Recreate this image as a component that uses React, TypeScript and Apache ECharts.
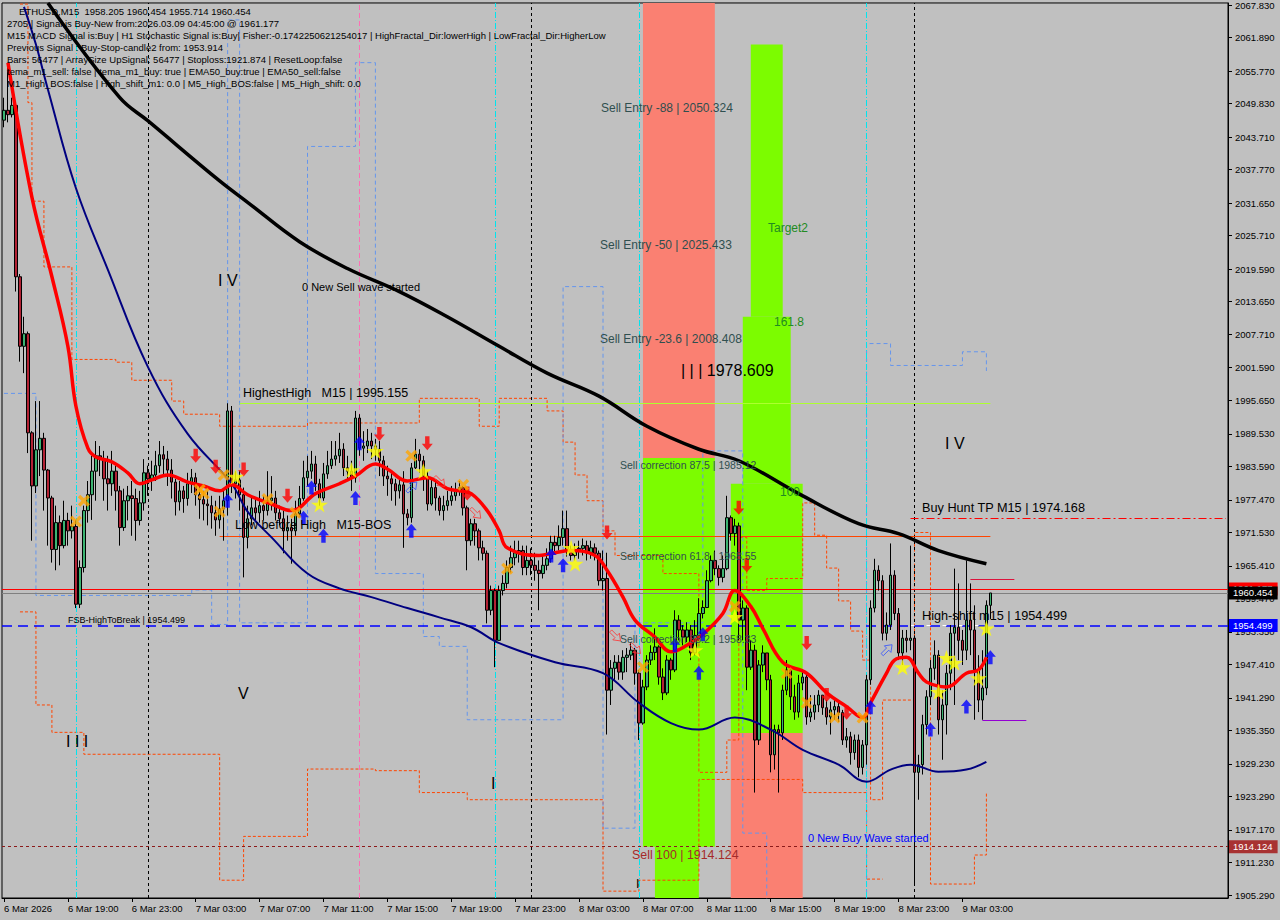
import React, { useEffect, useRef } from "react";
import * as echarts from "echarts";

const FONT = "'Liberation Sans', Arial, sans-serif";
const Y_MIN = 1904.75;
const Y_MAX = 2068.2;
const N_SLOTS = 307;

const xTickIdx = [0, 16, 32, 48, 64, 80, 96, 112, 128, 144, 160, 176, 192, 208, 224, 240];
const xTickLabels = ["6 Mar 2026", "6 Mar 19:00", "6 Mar 23:00", "7 Mar 03:00", "7 Mar 07:00", "7 Mar 11:00", "7 Mar 15:00", "7 Mar 19:00", "7 Mar 23:00", "8 Mar 03:00", "8 Mar 07:00", "8 Mar 11:00", "8 Mar 15:00", "8 Mar 19:00", "8 Mar 23:00", "9 Mar 03:00"];
const yTickValues = [2067.83, 2061.89, 2055.77, 2049.83, 2043.71, 2037.77, 2031.65, 2025.71, 2019.59, 2013.65, 2007.71, 2001.59, 1995.65, 1989.53, 1983.59, 1977.47, 1971.53, 1965.41, 1959.47, 1953.35, 1947.41, 1941.29, 1935.35, 1929.23, 1923.29, 1917.17, 1911.23, 1905.29];

const firstOpen = 2046.8;
const closes = [
  2048.6, 2047.8, 2049.5, 2018.2, 2005.5, 2007.8, 1989.7, 1980.0, 1986.6, 1988.7,
  1982.9, 1977.8, 1968.4, 1973.3, 1969.1, 1973.7, 1971.8, 1972.6, 1958.4, 1965.1,
  1975.5, 1978.4, 1982.7, 1985.5, 1984.9, 1981.3, 1980.4, 1982.7, 1979.1, 1972.4,
  1977.3, 1978.2, 1977.7, 1973.7, 1976.9, 1982.4, 1981.3, 1982.0, 1983.7, 1985.7,
  1984.9, 1982.9, 1980.7, 1977.1, 1979.1, 1977.7, 1980.4, 1981.5, 1978.4, 1977.5,
  1976.7, 1976.4, 1975.1, 1973.8, 1975.8, 1977.3, 1993.7, 1980.4, 1981.1, 1978.4,
  1970.6, 1974.0, 1976.0, 1975.1, 1976.4, 1975.5, 1977.3, 1977.8, 1975.1, 1974.0,
  1971.8, 1972.4, 1971.8, 1974.9, 1977.7, 1981.5, 1982.7, 1984.0, 1980.4, 1977.8,
  1982.2, 1983.7, 1984.9, 1985.5, 1986.7, 1983.3, 1982.7, 1981.5, 1992.4, 1986.9,
  1987.3, 1988.2, 1987.3, 1986.7, 1984.6, 1981.8, 1981.3, 1980.4, 1979.1, 1980.2,
  1974.9, 1974.2, 1983.3, 1985.8, 1984.6, 1981.8, 1976.7, 1979.7, 1977.8, 1975.5,
  1976.4, 1977.3, 1978.2, 1979.1, 1979.7, 1976.0, 1970.0, 1973.1, 1971.8, 1968.7,
  1967.7, 1957.3, 1960.9, 1951.8, 1960.9, 1962.2, 1965.1, 1966.9, 1967.8, 1968.2,
  1965.1, 1966.4, 1965.5, 1964.6, 1964.0, 1965.5, 1966.7, 1969.7, 1969.1, 1970.6,
  1972.2, 1968.2, 1967.3, 1968.2, 1968.6, 1969.1, 1967.8, 1968.7, 1967.7, 1962.7,
  1963.1, 1942.7, 1946.7, 1947.8, 1946.0, 1948.7, 1949.1, 1950.0, 1945.8, 1936.7,
  1943.3, 1948.2, 1949.6, 1950.6, 1945.1, 1942.2, 1948.2, 1946.4, 1955.5, 1953.7,
  1952.4, 1953.7, 1949.5, 1952.7, 1956.7, 1957.8, 1962.7, 1966.4, 1964.9, 1963.3,
  1964.9, 1974.2, 1971.3, 1972.7, 1955.5, 1957.7, 1946.9, 1950.0, 1933.6, 1947.3,
  1949.5, 1944.6, 1930.9, 1935.5, 1934.9, 1942.7, 1946.4, 1941.5, 1938.7, 1944.0,
  1945.1, 1937.8, 1938.7, 1940.0, 1941.8, 1939.5, 1937.8, 1939.1, 1939.7, 1938.6,
  1933.6, 1934.2, 1931.3, 1933.6, 1928.6, 1932.7, 1944.6, 1957.7, 1964.6, 1962.7,
  1953.1, 1954.6, 1963.7, 1956.7, 1949.5, 1952.2, 1951.8, 1952.2, 1927.7, 1929.1,
  1936.4, 1941.5, 1946.7, 1949.1, 1937.3, 1940.0, 1945.8, 1953.1, 1954.2, 1951.8,
  1950.0, 1955.5, 1953.7, 1946.4, 1940.9, 1943.1, 1958.2, 1960.454
];
const highs = [
  2050.9, 2057.3, 2050.9, 2050.0, 2018.7, 2010.9, 2008.2, 1990.0, 1995.5, 1995.5,
  1989.7, 1983.1, 1978.2, 1976.4, 1974.6, 1977.3, 1975.1, 1976.4, 1973.7, 1966.4,
  1976.4, 1980.9, 1985.5, 1988.2, 1987.3, 1986.4, 1985.5, 1986.4, 1983.7, 1980.0,
  1979.5, 1980.0, 1980.9, 1979.5, 1979.1, 1984.9, 1983.7, 1984.6, 1986.4, 1988.2,
  1987.3, 1986.4, 1984.9, 1981.3, 1980.9, 1980.0, 1982.4, 1983.1, 1982.4, 1980.0,
  1979.1, 1979.1, 1978.2, 1977.3, 1978.2, 1979.1, 1995.1, 1994.6, 1982.7, 1982.7,
  1979.7, 1976.4, 1978.2, 1977.7, 1979.1, 1978.2, 1982.7, 1981.8, 1979.1, 1976.4,
  1975.5, 1974.6, 1974.0, 1977.3, 1980.0, 1984.6, 1985.5, 1986.4, 1985.5, 1981.3,
  1984.2, 1986.4, 1988.2, 1988.2, 1989.7, 1987.8, 1985.5, 1984.6, 1993.7, 1993.1,
  1990.0, 1990.4, 1989.7, 1988.6, 1988.2, 1985.5, 1983.7, 1982.7, 1981.3, 1981.3,
  1982.7, 1975.8, 1984.2, 1988.6, 1986.7, 1985.5, 1982.7, 1981.3, 1980.9, 1978.2,
  1978.2, 1979.1, 1980.0, 1980.6, 1980.9, 1980.0, 1976.4, 1974.0, 1974.0, 1972.2,
  1970.0, 1968.2, 1961.8, 1961.3, 1961.8, 1963.7, 1966.4, 1969.1, 1970.0, 1970.0,
  1969.1, 1969.1, 1968.6, 1967.8, 1966.4, 1967.3, 1968.6, 1970.9, 1970.9, 1972.8,
  1975.5, 1975.5, 1969.1, 1969.5, 1970.0, 1970.4, 1970.0, 1970.0, 1969.5, 1968.2,
  1968.2, 1967.8, 1948.2, 1949.1, 1949.1, 1950.0, 1950.4, 1951.5, 1950.4, 1946.4,
  1944.6, 1949.1, 1950.9, 1954.0, 1950.9, 1946.7, 1949.1, 1948.6, 1957.3, 1956.4,
  1954.6, 1955.1, 1954.6, 1955.5, 1959.5, 1959.1, 1964.6, 1967.3, 1968.2, 1965.5,
  1967.3, 1978.2, 1974.6, 1974.0, 1973.3, 1959.1, 1958.2, 1951.8, 1951.0, 1948.2,
  1950.9, 1949.1, 1945.5, 1936.4, 1936.4, 1943.7, 1948.2, 1947.3, 1943.7, 1945.5,
  1946.4, 1946.0, 1941.8, 1941.8, 1942.7, 1941.8, 1940.9, 1940.6, 1940.9, 1940.9,
  1939.1, 1935.8, 1935.1, 1934.6, 1934.6, 1933.6, 1945.5, 1959.1, 1966.7, 1965.5,
  1963.7, 1956.9, 1969.5, 1964.6, 1957.7, 1953.7, 1953.7, 1969.1, 1952.7, 1930.9,
  1938.2, 1942.7, 1948.2, 1951.8, 1950.0, 1942.7, 1947.3, 1954.6, 1964.9, 1962.2,
  1953.7, 1966.4, 1962.2, 1958.2, 1949.1, 1950.0, 1959.1, 1960.454
];
const lows = [
  2045.5, 2046.4, 2047.3, 2015.5, 2002.7, 2000.6, 1986.0, 1970.0, 1978.7, 1981.8,
  1975.5, 1969.1, 1966.0, 1964.6, 1965.5, 1968.6, 1969.1, 1970.4, 1957.7, 1957.7,
  1964.2, 1973.3, 1973.8, 1977.3, 1981.8, 1977.3, 1975.5, 1978.2, 1975.5, 1969.1,
  1971.8, 1973.7, 1970.9, 1970.0, 1972.8, 1975.5, 1978.2, 1979.1, 1980.9, 1982.4,
  1981.8, 1980.0, 1977.7, 1974.6, 1975.5, 1975.1, 1976.4, 1978.7, 1976.4, 1974.0,
  1973.7, 1972.8, 1972.2, 1970.9, 1972.2, 1970.0, 1974.6, 1978.7, 1977.7, 1975.5,
  1963.3, 1968.6, 1972.8, 1973.7, 1973.3, 1973.7, 1974.6, 1975.5, 1973.7, 1972.8,
  1967.7, 1970.0, 1965.8, 1970.9, 1974.6, 1977.3, 1980.0, 1981.3, 1979.1, 1976.4,
  1977.3, 1981.3, 1983.1, 1983.7, 1984.2, 1981.8, 1980.9, 1979.1, 1980.6, 1985.5,
  1984.6, 1986.0, 1984.9, 1984.6, 1981.8, 1980.0, 1978.2, 1977.3, 1976.4, 1977.7,
  1968.7, 1972.8, 1973.3, 1983.1, 1982.4, 1979.1, 1975.5, 1976.4, 1975.5, 1974.6,
  1973.7, 1975.5, 1976.4, 1977.3, 1978.2, 1974.6, 1964.6, 1969.1, 1969.1, 1966.4,
  1966.4, 1954.9, 1956.4, 1946.9, 1951.8, 1960.0, 1961.3, 1964.2, 1965.5, 1966.0,
  1963.7, 1963.7, 1963.7, 1962.7, 1957.3, 1963.1, 1964.6, 1966.0, 1967.8, 1968.2,
  1969.1, 1967.1, 1966.4, 1966.4, 1966.7, 1967.3, 1966.4, 1966.7, 1966.4, 1961.8,
  1960.9, 1934.6, 1940.0, 1944.6, 1944.6, 1944.6, 1946.0, 1948.2, 1943.7, 1933.6,
  1936.4, 1942.7, 1947.3, 1948.2, 1943.7, 1940.9, 1941.8, 1944.6, 1946.0, 1951.8,
  1950.9, 1951.5, 1948.2, 1949.1, 1951.8, 1955.8, 1957.7, 1962.4, 1963.7, 1961.8,
  1962.4, 1964.6, 1970.0, 1969.1, 1951.8, 1951.8, 1942.7, 1946.4, 1924.0, 1932.7,
  1946.0, 1942.7, 1927.7, 1928.2, 1924.0, 1933.6, 1941.8, 1939.1, 1937.3, 1937.7,
  1942.7, 1936.4, 1936.9, 1937.3, 1938.7, 1938.2, 1936.4, 1934.6, 1937.3, 1936.9,
  1932.7, 1932.2, 1929.1, 1930.0, 1926.8, 1927.3, 1929.1, 1943.7, 1956.9, 1960.9,
  1951.8, 1951.8, 1953.7, 1955.5, 1948.2, 1947.3, 1949.6, 1950.0, 1907.3, 1922.7,
  1927.3, 1934.6, 1940.0, 1944.6, 1934.6, 1930.0, 1934.6, 1942.7, 1940.0, 1948.2,
  1947.3, 1948.2, 1949.1, 1937.3, 1938.7, 1937.3, 1941.8, 1955.714
];

// moving averages (knots: [bar index, price])
const blackMA = [[11, 2068.2], [29, 2050.9], [36, 2046.7], [54, 2035.7], [61, 2031.8], [74, 2024.6], [86, 2019.7], [99, 2015.5], [111, 2010.9], [124, 2005.5], [136, 2000.6], [149, 1996.4], [161, 1990.9], [174, 1986.7], [184, 1984.6], [199, 1978.6], [214, 1973.1], [224, 1971.3], [234, 1968.2], [246, 1965.8]];
const navyMA = [[5, 2067.5], [8, 2060.6], [11, 2052.4], [18, 2034.4], [26, 2019.5], [36, 2001.8], [46, 1989.5], [57, 1980.4], [61, 1975.3], [67, 1970.6], [76, 1964.0], [84, 1961.3], [92, 1959.7], [101, 1957.7], [109, 1956.0], [117, 1954.2], [124, 1951.3], [138, 1947.8], [150, 1945.8], [159, 1940.4], [167, 1936.7], [174, 1935.5], [183, 1937.7], [192, 1935.5], [200, 1931.8], [209, 1929.1], [216, 1926.0], [222, 1928.2], [227, 1929.1], [234, 1927.8], [241, 1928.2], [246, 1929.6]];
const redMA = [[1, 2057.3], [7, 2032.7], [12, 2018.2], [16, 2005.5], [18, 1994.6], [21, 1986.9], [23, 1985.3], [27, 1984.4], [31, 1982.4], [34, 1980.4], [37, 1981.1], [41, 1982.0], [46, 1980.7], [50, 1980.0], [54, 1979.1], [57, 1980.2], [61, 1978.4], [67, 1976.7], [72, 1975.5], [78, 1978.6], [84, 1980.4], [88, 1981.8], [93, 1984.0], [96, 1983.1], [101, 1980.9], [106, 1981.5], [111, 1979.5], [114, 1979.1], [117, 1978.6], [121, 1975.5], [124, 1971.8], [126, 1968.7], [134, 1967.3], [138, 1967.8], [142, 1968.2], [148, 1967.3], [151, 1964.6], [155, 1959.7], [158, 1955.5], [163, 1952.4], [167, 1949.7], [171, 1950.9], [175, 1952.9], [180, 1956.7], [183, 1960.9], [187, 1958.0], [190, 1954.0], [195, 1947.8], [201, 1945.8], [206, 1942.2], [211, 1939.7], [215, 1937.7], [217, 1940.4], [221, 1945.8], [223, 1948.2], [226, 1948.7], [229, 1945.8], [231, 1944.2], [236, 1943.3], [241, 1945.8], [244, 1946.4], [246, 1948.7]];

// stepped channel lines
const orangeUpper = [[4, 2068.0], [6, 2050.0], [7, 2032.0], [10, 2020.0], [17, 2003.1], [28, 2002.6], [32, 1999.3], [42, 1995.5], [45, 1993.1], [54, 1990.9], [76, 1991.5], [104, 1996.0], [119, 1990.9], [124, 1996.0], [136, 1993.7], [140, 1988.0], [143, 1982.0], [146, 1977.3], [150, 1971.8], [153, 1967.3], [165, 1964.0], [174, 1927.7], [181, 1933.6], [184, 1970.6], [186, 1960.9], [191, 1963.1], [200, 1976.9], [203, 1971.0], [206, 1965.0], [209, 1959.0], [212, 1953.5], [215, 1948.2], [217, 1922.7], [220, 1940.9], [228, 1971.5], [232, 1907.3], [243, 1912.6], [246, 1924.0]];
const orangeLower = [[4, 1957.0], [8, 1940.0], [12, 1935.0], [20, 1931.0], [54, 1908.0], [60, 1916.0], [76, 1928.3], [93, 1928.0], [104, 1924.0], [116, 1922.7], [135, 1922.7], [150, 1906.0], [159, 1908.0], [174, 1926.4], [200, 1924.0], [216, 1908.2], [220, 1908.2]];
const blueUpper = [[0, 1996.9], [8, 1960.0], [47, 1961.0], [52, 1954.7], [56, 2065.1], [59, 1955.0], [76, 2042.0], [88, 2057.3], [93, 1964.0], [105, 1952.5], [109, 1950.7], [116, 1937.3], [140, 2016.4], [150, 1917.5], [158, 1955.0], [175, 1986.4], [185, 1916.6], [191, 1904.0], [216, 2006.0], [222, 2002.0], [240, 2004.5], [246, 2001.0]];

// signal markers [bar index, price]
const redArrows = [[48, 1985.5], [53, 1983.5], [60, 1983.0], [71, 1978.2], [94, 1989.5], [106, 1987.8], [116, 1978.6], [151, 1971.5], [184, 1976.0], [186, 1965.5], [201, 1951.3], [206, 1941.8], [211, 1938.6]];
const blueArrows = [[56, 1977.3], [75, 1974.2], [77, 1979.7], [80, 1970.9], [88, 1977.8], [89, 1987.8], [102, 1971.8], [137, 1967.3], [140, 1965.5], [168, 1950.9], [174, 1945.9], [175, 1952.9], [217, 1939.6], [232, 1935.5], [241, 1939.7], [247, 1948.7]];
const stars = [[58, 1981.7], [79, 1976.6], [87, 1982.9], [93, 1986.4], [105, 1982.7], [142, 1968.7], [143, 1965.8], [173, 1950.0], [183, 1956.1], [225, 1946.9], [234, 1942.4], [236, 1948.6], [238, 1947.7], [244, 1944.9], [246, 1954.0]];
const crosses = [[18, 1973.5], [20, 1977.3], [49, 1979.3], [50, 1978.6], [54, 1975.3], [55, 1982.0], [66, 1977.6], [73, 1975.1], [102, 1985.5], [115, 1980.2], [126, 1964.9], [160, 1946.9], [183, 1958.0], [196, 1945.8], [201, 1940.4], [208, 1937.7], [215, 1937.7]];
const hollowRed = [[109, 1980.9], [118, 1975.1], [153, 1952.7], [158, 1950.4]];
const hollowBlue = [[102, 1979.7], [221, 1950.0]];

// zones [fromBar, toBar, top, bottom, colour]
const SALMON = "#FA8072";
const LIME = "#7CFC00";
const zones: [number, number, number, number, string][] = [
  [160, 178, Y_MAX, 1985.12, SALMON],
  [160, 178, 1985.12, 1914.124, LIME],
  [163, 174, 1914.124, Y_MIN, LIME],
  [187, 195, 2060.6, 2010.9, LIME],
  [185, 197, 2010.9, 1980.4, LIME],
  [182, 200, 1980.4, 1934.9, LIME],
  [182, 200, 1934.9, Y_MIN, SALMON],
];

const ARROW_DOWN = "path://M3,0 H7 V7 H10 L5,13 L0,7 H3 Z";
const ARROW_UP = "path://M5,0 L10,6 H7 V13 H3 V6 H0 Z";
const ARROW_DR = "path://M0,2 L2,0 L7,5 L9,3 L10,10 L3,9 L5,7 Z";
const ARROW_UR = "path://M0,8 L2,10 L7,5 L9,7 L10,0 L3,1 L5,3 Z";
const STAR = "path://M50,0 L61,35 L98,35 L68,57 L79,91 L50,70 L21,91 L32,57 L2,35 L39,35 Z";
const CROSS = "path://M0,2 L2,0 L5,3 L8,0 L10,2 L7,5 L10,8 L8,10 L5,7 L2,10 L0,8 L3,5 Z";

const headerLines = [
  "ETHUSD,M15  1958.205 1960.454 1955.714 1960.454",
  "2705 | Signal is Buy-New from:2026.03.09 04:45:00 @ 1961.177",
  "M15 MACD Signal is:Buy | H1 Stochastic Signal is:Buy| Fisher:-0.1742250621254017 | HighFractal_Dir:lowerHigh | LowFractal_Dir:HigherLow",
  "Previous Signal : Buy-Stop-candle2 from: 1953.914",
  "Bars: 56477 | ArraySize UpSignal: 56477 | Stoploss:1921.874 | ResetLoop:false",
  "tema_m1_sell: false | tema_m1_buy: true | EMA50_buy:true | EMA50_sell:false",
  "M1_High_BOS:false | High_shift_m1: 0.0 | M5_High_BOS:false | M5_High_shift: 0.0",
];

function txt(x: number, y: number, text: string, size: number, fill = "#000") {
  return {
    type: "text",
    x,
    y,
    z: 100,
    silent: true,
    style: { text, fill, fontSize: size, fontFamily: FONT, verticalAlign: "middle", align: "left" },
  };
}

export default function App() {
  const ref = useRef<HTMLDivElement>(null);
  useEffect(() => {
    const chart = echarts.init(ref.current!, null, { renderer: "svg" });
    const cats = Array.from({ length: N_SLOTS }, (_, i) => String(i));
    const tickSet = new Set(xTickIdx);
    const labelMap: Record<number, string> = {};
    xTickIdx.forEach((k, j) => (labelMap[k] = xTickLabels[j]));

    const candleData = closes.map((c, i) => {
      const o = i === 0 ? firstOpen : closes[i - 1];
      return [o, c, Math.min(lows[i], o, c), Math.max(highs[i], o, c)];
    });

    const hLine = (p: number, color: string, type: any, width = 1) => ({
      yAxis: p,
      lineStyle: { color, type, width },
    });
    const segLine = (a: number, b: number, p: number, color: string, type: any = "solid", width = 1) => [
      { coord: [a, p], lineStyle: { color, type, width } },
      { coord: [b, p] },
    ];
    const vLine = (i: number, color: string, type: any) => ({ xAxis: i, lineStyle: { color, type, width: 1 } });
    const priceTag = (p: number, bg: string) => ({
      yAxis: p,
      lineStyle: { color: "transparent", width: 0 },
      label: {
        show: true,
        position: "end",
        distance: 1,
        formatter: p.toFixed(3),
        color: "#fff",
        backgroundColor: bg,
        padding: [2, 5, 1, 4],
        fontSize: 9.5,
        fontFamily: FONT,
      },
    });
    const stepLine = (name: string, data: number[][], color: string, type: any) => ({
      name,
      type: "line",
      data,
      step: "end",
      showSymbol: false,
      z: 4,
      silent: true,
      lineStyle: { color, width: 1, type },
    });
    const marks = (name: string, data: number[][], symbol: string, size: number[], itemStyle: any, z = 10) => ({
      name,
      type: "scatter",
      data,
      symbol,
      symbolSize: size,
      z,
      silent: true,
      itemStyle,
    });

    const option: any = {
      animation: false,
      backgroundColor: "#C0C0C0",
      grid: { left: 2, right: 52, top: 2, bottom: 22, show: true, borderColor: "#000", borderWidth: 1 },
      xAxis: {
        type: "category",
        data: cats,
        boundaryGap: true,
        axisLine: { onZero: false, lineStyle: { color: "#000", width: 1 } },
        axisTick: { show: true, alignWithLabel: true, interval: (i: number) => tickSet.has(i), length: 4, lineStyle: { color: "#000" } },
        axisLabel: {
          interval: (i: number) => tickSet.has(i),
          formatter: (_v: string, i: number) => labelMap[i] || "",
          align: "left",
          margin: 5,
          color: "#000",
          fontSize: 9.5,
          fontFamily: FONT,
        },
        splitLine: { show: false },
      },
      yAxis: {
        type: "value",
        position: "right",
        min: Y_MIN,
        max: Y_MAX,
        scale: true,
        splitLine: { show: false },
        axisLine: { show: true, lineStyle: { color: "#000" } },
        axisTick: { show: true, length: 4, customValues: yTickValues, lineStyle: { color: "#000" } },
        axisLabel: {
          customValues: yTickValues,
          formatter: (v: number) => v.toFixed(3),
          color: "#000",
          fontSize: 9.5,
          fontFamily: FONT,
          margin: 7,
        },
      },
      series: [
        {
          name: "zones",
          type: "line",
          data: [],
          z: 1,
          silent: true,
          markArea: {
            silent: true,
            data: zones.map(([a, b, t, btm, col]) => [
              { coord: [a, t], itemStyle: { color: col, opacity: 1 } },
              { coord: [b, btm] },
            ]),
          },
        },
        {
          name: "levels",
          type: "line",
          data: [],
          z: 3,
          silent: true,
          markLine: {
            silent: true,
            symbol: "none",
            label: { show: false },
            data: [
              vLine(36, "#000", [3, 3]),
              vLine(132, "#000", [3, 3]),
              vLine(228, "#000", [3, 3]),
              vLine(18, "#00E5EE", [6, 2, 1, 2]),
              vLine(123, "#00E5EE", [6, 2, 1, 2]),
              vLine(159, "#00E5EE", [6, 2, 1, 2]),
              vLine(216, "#00E5EE", [6, 2, 1, 2]),
              vLine(89, "#FF6EB4", [5, 3]),
              hLine(1961.177, "#FF0000", "solid"),
              hLine(1960.454, "#808080", "solid"),
              hLine(1954.499, "#0000FF", [10, 6], 1.5),
              hLine(1914.124, "#8B1A1A", [3, 3]),
              segLine(227, 247, 1954.499, "#FFFFFF", [4, 12], 1),
              segLine(59, 247, 1995.155, "#ADFF2F"),
              segLine(54, 247, 1970.74, "#FF4500"),
              segLine(227, 306, 1974.168, "#FF0000", [8, 3, 2, 3]),
              segLine(242, 253, 1962.9, "#DC143C"),
              segLine(245, 256, 1937.2, "#9400D3"),
            ],
          },
        },
        {
          name: "tags",
          type: "line",
          data: [],
          z: 20,
          silent: true,
          markLine: {
            silent: true,
            symbol: "none",
            data: [priceTag(1961.177, "#FF0000"), priceTag(1960.454, "#000000"), priceTag(1954.499, "#0000FF"), priceTag(1914.124, "#A83232")],
          },
        },
        stepLine("orangeUpper", orangeUpper, "#FF4500", [3, 2]),
        stepLine("orangeLower", orangeLower, "#FF4500", [3, 2]),
        stepLine("blueUpper", blueUpper, "#6495ED", [4, 3]),
        {
          name: "candles",
          type: "candlestick",
          data: candleData,
          barWidth: 3,
          z: 5,
          silent: true,
          itemStyle: { color: "#3CB371", color0: "#B22234", borderColor: "#000", borderColor0: "#000", borderWidth: 1 },
        },
        { name: "navy", type: "line", data: navyMA, smooth: 0.4, showSymbol: false, z: 6, silent: true, lineStyle: { color: "#000080", width: 2 } },
        { name: "black", type: "line", data: blackMA, smooth: 0.4, showSymbol: false, z: 6, silent: true, lineStyle: { color: "#000000", width: 3.5 } },
        { name: "red", type: "line", data: redMA, smooth: 0.4, showSymbol: false, z: 7, silent: true, lineStyle: { color: "#FF0000", width: 3.5 } },
        marks("downArrows", redArrows, ARROW_DOWN, [11, 14], { color: "#FF0000" }),
        marks("upArrows", blueArrows, ARROW_UP, [11, 14], { color: "#0000FF" }),
        marks("hollowRed", hollowRed, ARROW_DR, [11, 11], { color: "transparent", borderColor: "#FF3030", borderWidth: 1 }),
        marks("hollowBlue", hollowBlue, ARROW_UR, [11, 11], { color: "transparent", borderColor: "#3050FF", borderWidth: 1 }),
        marks("stars", stars, STAR, [17, 16], { color: "#FFFF00" }, 11),
        marks("crosses", crosses, CROSS, [12, 12], { color: "#FFA500" }, 11),
      ],
      graphic: [
        ...headerLines.map((t, k) => txt(k === 0 ? 19 : 7, 11 + k * 12.1, t, 9.5)),
        txt(601, 108, "Sell Entry -88 | 2050.324", 12, "#2F4F4F"),
        txt(600, 245, "Sell Entry -50 | 2025.433", 12, "#2F4F4F"),
        txt(600, 339, "Sell Entry -23.6 | 2008.408", 12, "#2F4F4F"),
        txt(768, 228, "Target2", 12, "#228B22"),
        txt(774, 322, "161.8", 12, "#228B22"),
        txt(681, 370, "| | | 1978.609", 16, "#000"),
        txt(620, 465, "Sell correction 87.5 | 1985.12", 10.5, "#2F4F4F"),
        txt(620, 556, "Sell correction 61.8 | 1968.55", 10.5, "#2F4F4F"),
        txt(620, 639, "Sell correction 38.2 | 1958.33", 10.5, "#2F4F4F"),
        txt(780, 492, "100", 12, "#228B22"),
        txt(632, 855, "Sell 100 | 1914.124", 12.4, "#A52A2A"),
        txt(808, 838, "0 New Buy Wave started", 11, "#0000FF"),
        txt(302, 287, "0 New Sell wave started", 11, "#000"),
        txt(218, 280, "I V", 16, "#000"),
        txt(945, 443, "I V", 16, "#000"),
        txt(238, 693, "V", 16, "#000"),
        txt(66, 741, "I I I", 16, "#000"),
        txt(491, 783, "I", 16, "#000"),
        txt(636, 884, "I", 12, "#000"),
        txt(243, 393, "HighestHigh   M15 | 1995.155", 12.5, "#000"),
        txt(235, 525, "Low before High   M15-BOS", 12.5, "#000"),
        txt(68, 620, "FSB-HighToBreak | 1954.499", 9, "#000"),
        txt(922, 508, "Buy Hunt TP M15 | 1974.168", 12.7, "#000"),
        txt(922, 616, "High-shift m15 | 1954.499", 12.7, "#000"),
      ],
    };
    chart.setOption(option);
    return () => chart.dispose();
  }, []);
  return <div ref={ref} style={{ position: "fixed", left: 0, top: 0, width: 1280, height: 920 }} />;
}
